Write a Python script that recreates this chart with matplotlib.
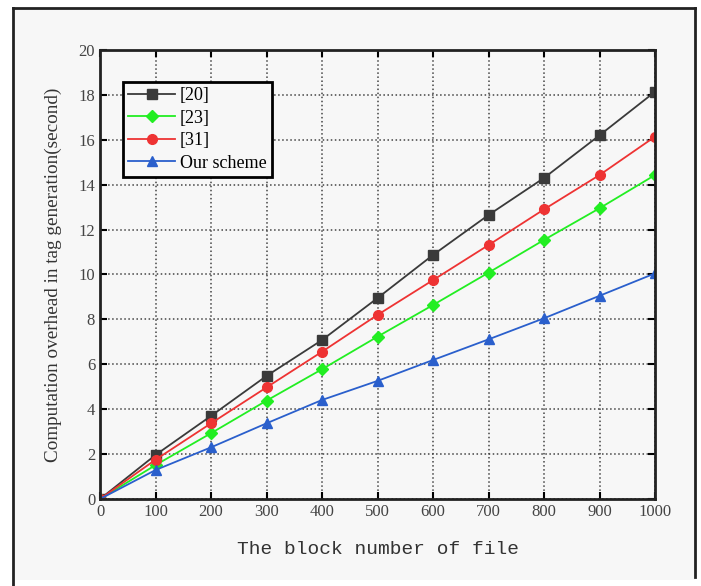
import numpy as np
import matplotlib.pyplot as plt
from matplotlib.lines import Line2D

# block number of file
blocks = [0, 100, 200, 300, 400, 500, 600, 700, 800, 900, 1000]

# computation overhead in tag generation (second)
ref20 = [0, 1.96, 3.70, 5.48, 7.08, 8.95, 10.87, 12.65, 14.30, 16.20, 18.14]
ref23 = [0, 1.51, 2.93, 4.38, 5.78, 7.23, 8.64, 10.08, 11.54, 12.95, 14.43]
ref31 = [0, 1.75, 3.37, 4.97, 6.56, 8.20, 9.75, 11.31, 12.90, 14.43, 16.14]
ours = [0, 1.29, 2.30, 3.37, 4.41, 5.26, 6.19, 7.11, 8.05, 9.05, 10.05]

serif = 'Liberation Serif'

fig = plt.figure(figsize=(7.01, 5.86), dpi=100)
fig.patch.set_facecolor('white')

# grey panel with a dark frame (left, top, right)
fig.patches.append(plt.Rectangle((0.0185, 0.0102), 0.973, 0.976,
                                 transform=fig.transFigure, facecolor='#f7f7f7',
                                 edgecolor='none', zorder=-2))
for xs, ys in [([0.0185, 0.0185], [0.0, 0.9863]),
               ([0.0185, 0.9914], [0.9863, 0.9863]),
               ([0.9914, 0.9914], [0.0152, 0.9863])]:
    fig.add_artist(Line2D(xs, ys, transform=fig.transFigure, color='#222222', lw=2))

ax = fig.add_axes([0.1427, 0.1485, 0.7917, 0.7662])
ax.set_facecolor('#f7f7f7')

ax.plot(blocks, ref20, '-s', color='#3a3a3a', mfc='#3a3a3a', ms=7, lw=1.3, label='[20]')
ax.plot(blocks, ref23, '-D', color='#22ee22', mfc='#22ee22', ms=6, lw=1.3, label='[23]')
ax.plot(blocks, ref31, '-o', color='#ee3333', mfc='#ee3333', ms=7, lw=1.3, label='[31]')
ax.plot(blocks, ours, '-^', color='#2a5fcc', mfc='#2a5fcc', ms=7, lw=1.3, label='Our scheme')

ax.set_xlim(0, 1000)
ax.set_ylim(0, 20)
ax.set_xticks(np.arange(0, 1001, 100))
ax.set_yticks(np.arange(0, 21, 2))
ax.grid(True, linestyle=':', color='#444444', lw=1.1)
ax.tick_params(direction='in', top=True, right=True, length=5, width=1.5, labelsize=12)
for lab in ax.get_xticklabels() + ax.get_yticklabels():
    lab.set_family(serif)
    lab.set_color('#444444')
for s in ax.spines.values():
    s.set_linewidth(2)
    s.set_color('#222222')

ax.set_xlabel('The block number of file', family='Liberation Mono', fontsize=14,
              color='#333333', labelpad=15)
ax.set_ylabel('Computation overhead in tag generation(second)', family=serif,
              fontsize=13.8, color='#333333', labelpad=12)

leg = ax.legend(loc='upper left', bbox_to_anchor=(0.041, 0.929), prop={'family': serif, 'size': 13},
                fancybox=False, edgecolor='black', framealpha=1, facecolor='#f7f7f7',
                handlelength=2.6, labelspacing=0.3, borderpad=0.3, handletextpad=0.25,
                borderaxespad=0)
leg.get_frame().set_linewidth(2)

fig.savefig('out.png', dpi=100)
